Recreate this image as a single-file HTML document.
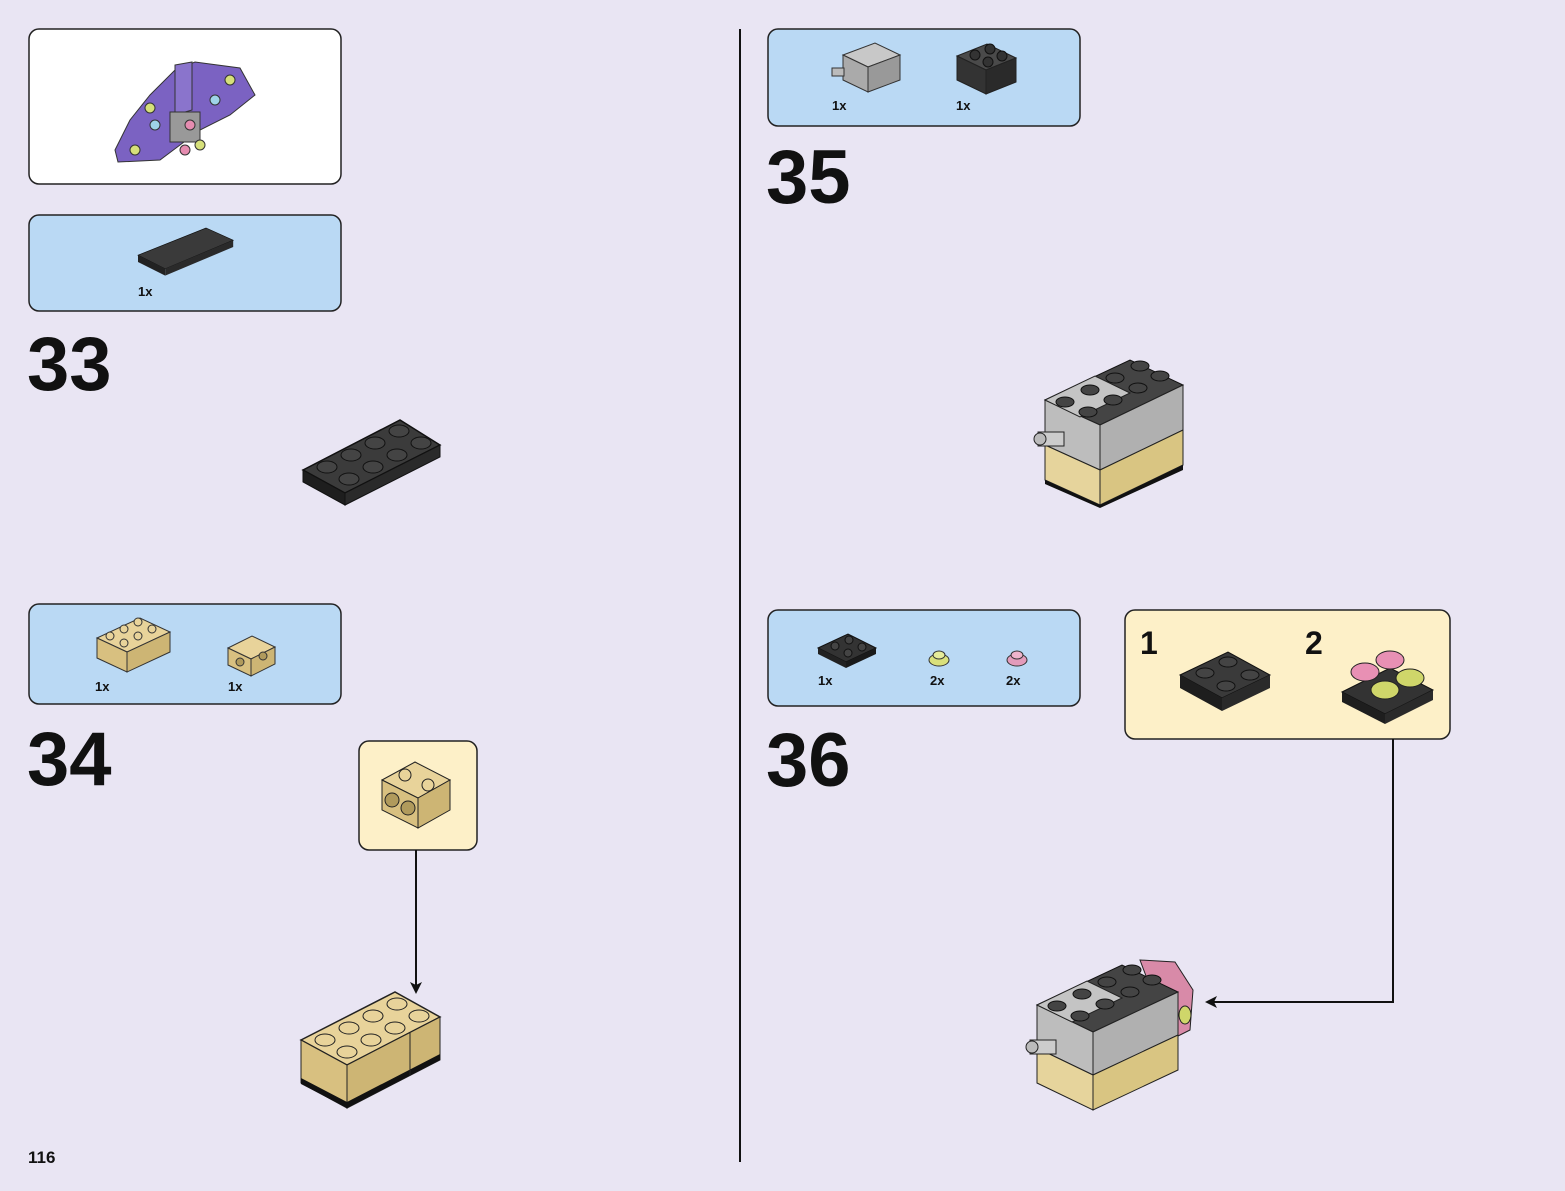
<!DOCTYPE html>
<html><head><meta charset="utf-8"><style>
html,body{margin:0;padding:0;background:#e9e5f3;}
svg{display:block;}
text{font-family:"Liberation Sans",Arial,sans-serif;font-weight:bold;fill:#111;}
</style></head><body>
<svg width="1565" height="1191" viewBox="0 0 1565 1191" xmlns="http://www.w3.org/2000/svg">
<defs>
<marker id="ah" markerWidth="12" markerHeight="12" refX="10" refY="6" orient="auto" markerUnits="userSpaceOnUse">
<path d="M0,0 L12,6 L0,12 L3,6 Z" fill="#111"/></marker>
</defs>
<rect width="1565" height="1191" fill="#e9e5f3"/>
<line x1="740" y1="29" x2="740" y2="1162" stroke="#111" stroke-width="2"/>

<rect x="29" y="29" width="312" height="155" rx="10" fill="#fff" stroke="#222" stroke-width="1.5"/>
<g>
<polygon points="115,150 130,120 150,95 175,70 195,62 240,68 255,95 230,115 200,130 160,160 118,162" fill="#7b62c2" stroke="#333"/>
<polygon points="175,65 192,62 192,110 175,115" fill="#8a74cc" stroke="#333"/>
<rect x="170" y="112" width="30" height="30" fill="#999" stroke="#333"/>
<circle cx="150" cy="108" r="5" fill="#d6e07a" stroke="#333"/><circle cx="155" cy="125" r="5" fill="#9fd3e8" stroke="#333"/>
<circle cx="185" cy="150" r="5" fill="#e58cb0" stroke="#333"/><circle cx="200" cy="145" r="5" fill="#d6e07a" stroke="#333"/>
<circle cx="215" cy="100" r="5" fill="#9fd3e8" stroke="#333"/><circle cx="230" cy="80" r="5" fill="#d6e07a" stroke="#333"/>
<circle cx="135" cy="150" r="5" fill="#d6e07a" stroke="#333"/><circle cx="190" cy="125" r="5" fill="#e58cb0" stroke="#333"/>
</g>

<rect x="29" y="215" width="312" height="96" rx="10" fill="#bad9f4" stroke="#222" stroke-width="1.5"/>
<g transform="translate(138,228) scale(0.68)">
<polygon points="0,40 100,0 140,18 40,60" fill="#3a3a3a" stroke="#111"/>
<polygon points="0,40 40,60 40,70 0,50" fill="#222"/><polygon points="40,60 140,18 140,28 40,70" fill="#2a2a2a"/>
</g>
<text x="138" y="296" font-size="13">1x</text>

<text x="27" y="390" font-size="76">33</text>
<g>
<polygon points="303,470 400,420 440,445 345,493" fill="#3b3b3b" stroke="#111" stroke-width="1.5"/>
<polygon points="303,470 345,493 345,505 303,482" fill="#1e1e1e" stroke="#111"/>
<polygon points="345,493 440,445 440,457 345,505" fill="#2a2a2a" stroke="#111"/>
<g fill="#444" stroke="#111">
<ellipse cx="327" cy="467" rx="10" ry="6"/><ellipse cx="351" cy="455" rx="10" ry="6"/><ellipse cx="375" cy="443" rx="10" ry="6"/><ellipse cx="399" cy="431" rx="10" ry="6"/>
<ellipse cx="349" cy="479" rx="10" ry="6"/><ellipse cx="373" cy="467" rx="10" ry="6"/><ellipse cx="397" cy="455" rx="10" ry="6"/><ellipse cx="421" cy="443" rx="10" ry="6"/>
</g></g>

<rect x="29" y="604" width="312" height="100" rx="10" fill="#bad9f4" stroke="#222" stroke-width="1.5"/>
<g>
<polygon points="97,638 140,618 170,632 127,652" fill="#e8d39a" stroke="#333"/>
<polygon points="97,638 127,652 127,672 97,658" fill="#d8c080" stroke="#333"/>
<polygon points="127,652 170,632 170,652 127,672" fill="#cdb574" stroke="#333"/>
<g fill="#e8d39a" stroke="#333"><circle cx="110" cy="636" r="4"/><circle cx="124" cy="629" r="4"/><circle cx="138" cy="622" r="4"/><circle cx="124" cy="643" r="4"/><circle cx="138" cy="636" r="4"/><circle cx="152" cy="629" r="4"/></g>
<polygon points="228,648 252,636 275,647 251,659" fill="#e8d39a" stroke="#333"/>
<polygon points="228,648 251,659 251,676 228,665" fill="#d8c080" stroke="#333"/>
<polygon points="251,659 275,647 275,664 251,676" fill="#cdb574" stroke="#333"/>
<circle cx="240" cy="662" r="4" fill="#b09a5c" stroke="#333"/><circle cx="263" cy="656" r="4" fill="#b09a5c" stroke="#333"/>
</g>
<text x="95" y="691" font-size="13">1x</text><text x="228" y="691" font-size="13">1x</text>

<text x="27" y="785" font-size="76">34</text>
<rect x="359" y="741" width="118" height="109" rx="10" fill="#fdf0c8" stroke="#222" stroke-width="1.5"/>
<g>
<polygon points="382,780 415,762 450,780 418,798" fill="#e8d39a" stroke="#222"/>
<polygon points="382,780 418,798 418,828 382,810" fill="#d8c080" stroke="#222"/>
<polygon points="418,798 450,780 450,810 418,828" fill="#cdb574" stroke="#222"/>
<circle cx="405" cy="775" r="6" fill="#e8d39a" stroke="#222"/><circle cx="428" cy="785" r="6" fill="#e8d39a" stroke="#222"/>
<circle cx="392" cy="800" r="7" fill="#b09a5c" stroke="#222"/><circle cx="408" cy="808" r="7" fill="#b09a5c" stroke="#222"/>
</g>
<line x1="416" y1="850" x2="416" y2="992" stroke="#111" stroke-width="2" marker-end="url(#ah)"/>
<g>
<polygon points="301,1040 395,992 440,1017 347,1065" fill="#e8d39a" stroke="#222" stroke-width="1.5"/>
<polygon points="301,1040 347,1065 347,1108 301,1083" fill="#d8c080" stroke="#222"/>
<polygon points="347,1065 440,1017 440,1060 347,1108" fill="#cdb574" stroke="#222"/>
<polygon points="301,1078 347,1102 347,1108 301,1084" fill="#111"/><polygon points="347,1102 440,1054 440,1060 347,1108" fill="#111"/>
<line x1="410" y1="1032" x2="410" y2="1076" stroke="#222"/>
<g fill="#e8d39a" stroke="#222">
<ellipse cx="325" cy="1040" rx="10" ry="6"/><ellipse cx="349" cy="1028" rx="10" ry="6"/><ellipse cx="373" cy="1016" rx="10" ry="6"/><ellipse cx="397" cy="1004" rx="10" ry="6"/>
<ellipse cx="347" cy="1052" rx="10" ry="6"/><ellipse cx="371" cy="1040" rx="10" ry="6"/><ellipse cx="395" cy="1028" rx="10" ry="6"/><ellipse cx="419" cy="1016" rx="10" ry="6"/>
</g></g>

<text x="28" y="1163" font-size="17">116</text>

<rect x="768" y="29" width="312" height="97" rx="10" fill="#bad9f4" stroke="#222" stroke-width="1.5"/>
<g>
<polygon points="843,55 875,43 900,55 868,67" fill="#c8c8c8" stroke="#333"/>
<polygon points="843,55 868,67 868,92 843,80" fill="#aaa" stroke="#333"/>
<polygon points="868,67 900,55 900,80 868,92" fill="#999" stroke="#333"/>
<rect x="832" y="68" width="12" height="8" fill="#bbb" stroke="#333"/>
<polygon points="957,56 987,44 1016,58 986,70" fill="#4a4a4a" stroke="#222"/>
<polygon points="957,56 986,70 986,94 957,80" fill="#333" stroke="#222"/>
<polygon points="986,70 1016,58 1016,82 986,94" fill="#2a2a2a" stroke="#222"/>
<g fill="#333" stroke="#111"><circle cx="975" cy="55" r="5"/><circle cx="990" cy="49" r="5"/><circle cx="988" cy="62" r="5"/><circle cx="1002" cy="56" r="5"/></g>
</g>
<text x="832" y="110" font-size="13">1x</text><text x="956" y="110" font-size="13">1x</text>

<text x="766" y="203" font-size="76">35</text>
<g>
<polygon points="1045,400 1130,360 1183,385 1100,425" fill="#444" stroke="#111"/>
<polygon points="1045,400 1100,425 1100,470 1045,445" fill="#bdbdbd" stroke="#222"/>
<polygon points="1100,425 1183,385 1183,430 1100,470" fill="#b0b0b0" stroke="#222"/>
<polygon points="1045,445 1100,470 1100,505 1045,480" fill="#e6d49c" stroke="#222"/>
<polygon points="1100,470 1183,430 1183,465 1100,505" fill="#d9c582" stroke="#222"/>
<polygon points="1045,480 1100,505 1183,465 1183,470 1100,508 1045,484" fill="#111"/>
<polygon points="1045,400 1095,376 1130,393 1080,417" fill="#c4c4c4" stroke="#222"/>
<g fill="#444" stroke="#111"><ellipse cx="1065" cy="402" rx="9" ry="5"/><ellipse cx="1090" cy="390" rx="9" ry="5"/><ellipse cx="1115" cy="378" rx="9" ry="5"/><ellipse cx="1140" cy="366" rx="9" ry="5"/><ellipse cx="1088" cy="412" rx="9" ry="5"/><ellipse cx="1113" cy="400" rx="9" ry="5"/><ellipse cx="1138" cy="388" rx="9" ry="5"/><ellipse cx="1160" cy="376" rx="9" ry="5"/></g>
<rect x="1038" y="432" width="26" height="14" fill="#ccc" stroke="#222"/><circle cx="1040" cy="439" r="6" fill="#bbb" stroke="#222"/>
</g>

<rect x="768" y="610" width="312" height="96" rx="10" fill="#bad9f4" stroke="#222" stroke-width="1.5"/>
<g>
<polygon points="818,648 848,634 876,648 846,662" fill="#333" stroke="#111"/>
<polygon points="818,648 846,662 846,668 818,654" fill="#222"/><polygon points="846,662 876,648 876,654 846,668" fill="#1a1a1a"/>
<g fill="#444" stroke="#111"><circle cx="835" cy="646" r="4"/><circle cx="849" cy="640" r="4"/><circle cx="848" cy="653" r="4"/><circle cx="862" cy="647" r="4"/></g>
<ellipse cx="939" cy="660" rx="10" ry="6" fill="#d9e07c" stroke="#333"/><ellipse cx="939" cy="655" rx="6" ry="4" fill="#e6ec9a" stroke="#333"/>
<ellipse cx="1017" cy="660" rx="10" ry="6" fill="#e39bbb" stroke="#333"/><ellipse cx="1017" cy="655" rx="6" ry="4" fill="#eeb4cc" stroke="#333"/>
</g>
<text x="818" y="685" font-size="13">1x</text><text x="930" y="685" font-size="13">2x</text><text x="1006" y="685" font-size="13">2x</text>

<rect x="1125" y="610" width="325" height="129" rx="10" fill="#fdf0c8" stroke="#222" stroke-width="1.5"/>
<text x="1140" y="654" font-size="32">1</text><text x="1305" y="654" font-size="32">2</text>
<g>
<polygon points="1180,675 1228,652 1270,675 1222,698" fill="#3a3a3a" stroke="#111"/>
<polygon points="1180,675 1222,698 1222,711 1180,688" fill="#1e1e1e"/><polygon points="1222,698 1270,675 1270,688 1222,711" fill="#2a2a2a"/>
<g fill="#444" stroke="#111"><ellipse cx="1205" cy="673" rx="9" ry="5"/><ellipse cx="1228" cy="662" rx="9" ry="5"/><ellipse cx="1226" cy="686" rx="9" ry="5"/><ellipse cx="1250" cy="675" rx="9" ry="5"/></g>
<polygon points="1342,692 1390,668 1433,690 1385,714" fill="#333" stroke="#111"/>
<polygon points="1342,692 1385,714 1385,724 1342,702" fill="#1e1e1e"/><polygon points="1385,714 1433,690 1433,700 1385,724" fill="#2a2a2a"/>
<ellipse cx="1365" cy="672" rx="14" ry="9" fill="#e890b4" stroke="#222"/><ellipse cx="1390" cy="660" rx="14" ry="9" fill="#e890b4" stroke="#222"/>
<ellipse cx="1385" cy="690" rx="14" ry="9" fill="#cfd66a" stroke="#222"/><ellipse cx="1410" cy="678" rx="14" ry="9" fill="#cfd66a" stroke="#222"/>
</g>
<polyline points="1393,739 1393,1002 1207,1002" fill="none" stroke="#111" stroke-width="2" marker-end="url(#ah)"/>

<text x="766" y="786" font-size="76">36</text>
<g>
<polygon points="1140,960 1175,962 1193,990 1190,1030 1170,1040" fill="#d88aa8" stroke="#222"/>
<polygon points="1037,1005 1122,965 1178,992 1093,1032" fill="#444" stroke="#111"/>
<polygon points="1037,1005 1093,1032 1093,1075 1037,1048" fill="#bdbdbd" stroke="#222"/>
<polygon points="1093,1032 1178,992 1178,1035 1093,1075" fill="#b0b0b0" stroke="#222"/>
<polygon points="1037,1048 1093,1075 1093,1110 1037,1083" fill="#e6d49c" stroke="#222"/>
<polygon points="1093,1075 1178,1035 1178,1070 1093,1110" fill="#d9c582" stroke="#222"/>
<polygon points="1037,1005 1087,981 1122,998 1072,1022" fill="#c4c4c4" stroke="#222"/>
<g fill="#444" stroke="#111"><ellipse cx="1057" cy="1006" rx="9" ry="5"/><ellipse cx="1082" cy="994" rx="9" ry="5"/><ellipse cx="1107" cy="982" rx="9" ry="5"/><ellipse cx="1132" cy="970" rx="9" ry="5"/><ellipse cx="1080" cy="1016" rx="9" ry="5"/><ellipse cx="1105" cy="1004" rx="9" ry="5"/><ellipse cx="1130" cy="992" rx="9" ry="5"/><ellipse cx="1152" cy="980" rx="9" ry="5"/></g>
<ellipse cx="1185" cy="1015" rx="6" ry="9" fill="#cfd66a" stroke="#222"/>
<rect x="1030" y="1040" width="26" height="14" fill="#ccc" stroke="#222"/><circle cx="1032" cy="1047" r="6" fill="#bbb" stroke="#222"/>
</g>
</svg>
</body></html>
